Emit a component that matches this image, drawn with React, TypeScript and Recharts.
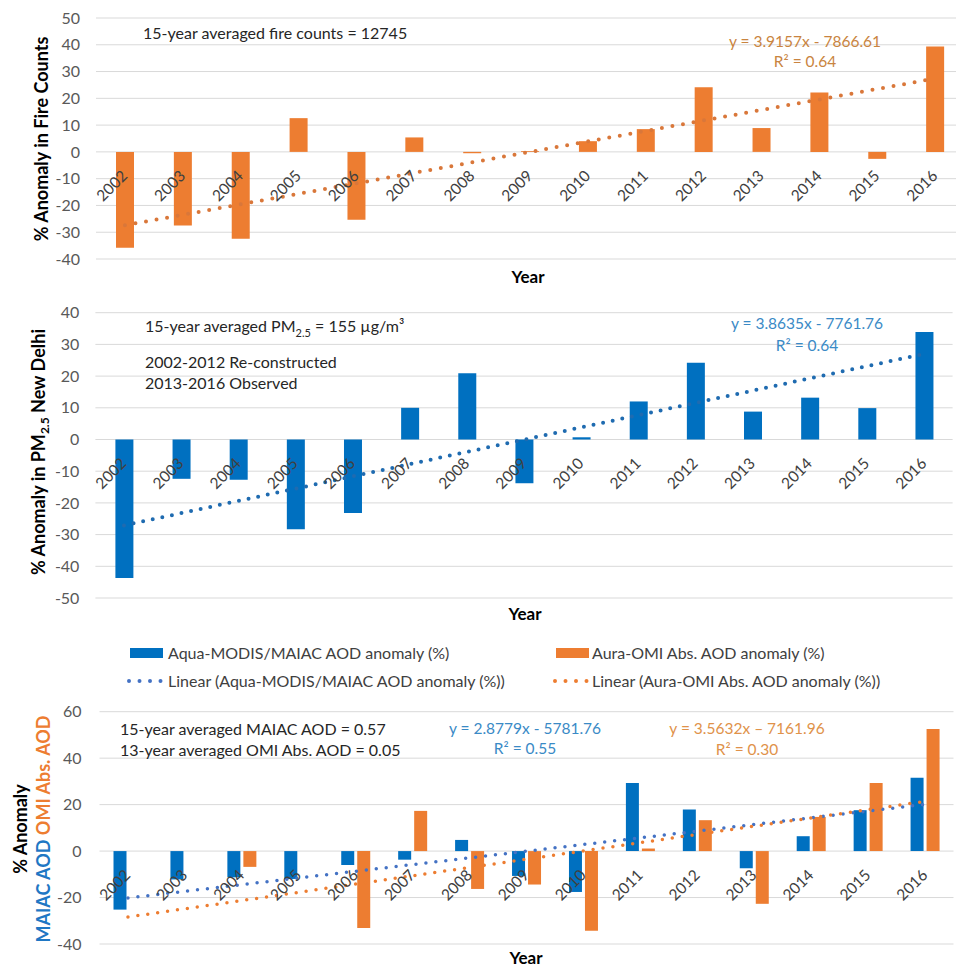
import { ComposedChart, Bar, Line, XAxis, YAxis, CartesianGrid, LabelList } from "recharts";

const FONT = "Lato, 'Open Sans', sans-serif";
const ORANGE = "#ED7D31";
const BLUE = "#0070C0";
const GRID = "#D9D9D9";
const TICK = "#595959";

const YEARS = ["2002", "2003", "2004", "2005", "2006", "2007", "2008", "2009", "2010", "2011", "2012", "2013", "2014", "2015", "2016"];

// panel 1: fire counts anomaly (%)
const FIRE_ANOMALY = [-35.8, -27.5, -32.4, 12.6, -25.3, 5.4, -0.5, 0.3, 4.0, 8.5, 24.1, 8.9, 22.2, -2.6, 39.4];
const FIRE_TREND_ENDS = [-27.4, 27.4];
const FIRE_TICKS = [-40, -30, -20, -10, 0, 10, 20, 30, 40, 50];

// panel 2: PM2.5 anomaly (%)
const PM25_ANOMALY = [-43.7, -12.4, -12.7, -28.3, -23.2, 10.0, 20.9, -13.8, 0.7, 12.0, 24.2, 8.8, 13.2, 9.9, 33.9];
const PM25_TREND_ENDS = [-27.1, 27.0];
const PM25_TICKS = [-50, -40, -30, -20, -10, 0, 10, 20, 30, 40];

// panel 3: AOD anomalies (%)
const MAIAC_ANOMALY = [-25.2, -12.2, -11.3, -12.0, -6.0, -3.7, 4.8, -10.7, -17.6, 29.3, 17.9, -7.4, 6.4, 17.6, 31.6];
const OMI_ANOMALY = [null, null, -6.8, null, -33.1, 17.3, -16.3, -14.4, -34.3, 1.1, 13.3, -22.7, 14.7, 29.3, 52.6];
const MAIAC_TREND_ENDS = [-20.2, 20.1];
const OMI_TREND_ENDS = [-28.4, 21.4];
const AOD_TICKS = [-40, -20, 0, 20, 40, 60];

const last = YEARS.length - 1;
const trendAt = (ends: number[], i: number) => (i === 0 ? ends[0] : i === last ? ends[1] : null);

const fireData = YEARS.map((year, i) => ({ year, value: FIRE_ANOMALY[i], trend: trendAt(FIRE_TREND_ENDS, i) }));
const pm25Data = YEARS.map((year, i) => ({ year, value: PM25_ANOMALY[i], trend: trendAt(PM25_TREND_ENDS, i) }));
const aodData = YEARS.map((year, i) => ({
  year,
  maiac: MAIAC_ANOMALY[i],
  omi: OMI_ANOMALY[i],
  maiacTrend: trendAt(MAIAC_TREND_ENDS, i),
  omiTrend: trendAt(OMI_TREND_ENDS, i),
}));

const YearLabel = (props: any) => {
  const { x, y, index } = props;
  const value = props.value ?? YEARS[index];
  const ax = x + 3.5;
  const ay = y + 25;
  return (
    <text x={ax} y={ay} transform={`rotate(-45, ${ax}, ${ay})`} textAnchor="end" fontSize={15.5} fill="#404040" fontFamily={FONT}>
      {value}
    </text>
  );
};

const yearLine = (
  <Line dataKey={() => 0} stroke="none" dot={false} activeDot={false} isAnimationActive={false} legendType="none">
    <LabelList dataKey="year" content={YearLabel} />
  </Line>
);

const tickStyle = { fill: TICK, fontSize: 16, fontFamily: FONT };

const Txt = ({ x, y, color = "#262626", size = 16, bold = false, center = false, children }: any) => (
  <div
    style={{
      position: "absolute",
      left: x,
      top: y,
      transform: center ? "translate(-50%, -50%)" : "translate(0, -50%)",
      color,
      fontSize: size,
      fontWeight: bold ? 700 : 400,
      whiteSpace: "nowrap",
      lineHeight: 1,
    }}
  >
    {children}
  </div>
);

const VTitle = ({ x, y, children, lineHeight = 1.2 }: any) => (
  <div
    style={{
      position: "absolute",
      left: x,
      top: y,
      transform: "translate(-50%, -50%) rotate(-90deg)",
      fontSize: 18,
      fontWeight: 700,
      color: "#000",
      whiteSpace: "nowrap",
      textAlign: "center",
      lineHeight,
    }}
  >
    {children}
  </div>
);

const LegendSwatch = ({ x, y, color, dotted }: any) =>
  dotted ? (
    <svg style={{ position: "absolute", left: x, top: y - 3 }} width={40} height={6}>
      <line x1={3} y1={3} x2={38} y2={3} stroke={color} strokeWidth={4} strokeDasharray="0 10.5" strokeLinecap="round" />
    </svg>
  ) : (
    <div style={{ position: "absolute", left: x, top: y - 5, width: 33, height: 10, background: color }} />
  );

export default function App() {
  return (
    <div
      style={{
        position: "absolute",
        left: 0,
        top: 0,
        width: 956,
        height: 967,
        overflow: "hidden",
        background: "#fff",
        fontFamily: FONT,
      }}
    >
      {/* panel 1: fire counts */}
      <div style={{ position: "absolute", left: 0, top: 0 }}>
        <ComposedChart width={970} height={275} data={fireData} margin={{ top: 18, right: 6, bottom: 16, left: 0 }}>
          <CartesianGrid vertical={false} stroke={GRID} />
          <XAxis dataKey="year" hide />
          <YAxis width={96} domain={[-40, 50]} ticks={FIRE_TICKS} interval={0} axisLine={false} tickLine={false} tickSize={0} tickMargin={16} tick={tickStyle} />
          <Bar dataKey="value" fill={ORANGE} barSize={18} isAnimationActive={false} />
          <Line dataKey="trend" connectNulls stroke="#D9773A" strokeWidth={4} strokeDasharray="0 10.7" strokeLinecap="round" dot={false} activeDot={false} isAnimationActive={false} />
          {yearLine}
        </ComposedChart>
      </div>
      <VTitle x={42} y={139}>% Anomaly in Fire Counts</VTitle>
      <Txt x={143} y={33}>15-year averaged fire counts = 12745</Txt>
      <Txt x={805} y={42} center size={15.5} color="#C98440">y = 3.9157x - 7866.61</Txt>
      <Txt x={805} y={62} center size={15.5} color="#C98440">R² = 0.64</Txt>
      <Txt x={528} y={276} center bold size={17} color="#000">Year</Txt>

      {/* panel 2: PM2.5 */}
      <div style={{ position: "absolute", left: 0, top: 290 }}>
        <ComposedChart width={956} height={324} data={pm25Data} margin={{ top: 22.7, right: 3.4, bottom: 16, left: 0 }}>
          <CartesianGrid vertical={false} stroke={GRID} />
          <XAxis dataKey="year" hide />
          <YAxis width={95.4} domain={[-50, 40]} ticks={PM25_TICKS} interval={0} axisLine={false} tickLine={false} tickSize={0} tickMargin={16} tick={tickStyle} />
          <Bar dataKey="value" fill={BLUE} barSize={18} isAnimationActive={false} />
          <Line dataKey="trend" connectNulls stroke="#1F6BB0" strokeWidth={4} strokeDasharray="0 9.8" strokeLinecap="round" dot={false} activeDot={false} isAnimationActive={false} />
          {yearLine}
        </ComposedChart>
      </div>
      <VTitle x={40} y={452}>
        % Anomaly in PM<sub style={{ fontSize: 12 }}>2.5</sub> New Delhi
      </VTitle>
      <Txt x={145} y={328}>
        15-year averaged PM<sub style={{ fontSize: 11 }}>2.5</sub> = 155 µg/m³
      </Txt>
      <Txt x={145} y={362}>2002-2012 Re-constructed</Txt>
      <Txt x={145} y={383}>2013-2016 Observed</Txt>
      <Txt x={807} y={324} center size={15.5} color="#3A8AC6">y = 3.8635x - 7761.76</Txt>
      <Txt x={807} y={346} center size={15.5} color="#3A8AC6">R² = 0.64</Txt>
      <Txt x={525} y={613} center bold size={17} color="#000">Year</Txt>

      {/* panel 3 legend */}
      <LegendSwatch x={130} y={653} color={BLUE} />
      <Txt x={168} y={653} color="#404040">Aqua-MODIS/MAIAC AOD anomaly (%)</Txt>
      <LegendSwatch x={556} y={653} color={ORANGE} />
      <Txt x={592} y={653} color="#404040">Aura-OMI Abs. AOD anomaly (%)</Txt>
      <LegendSwatch x={126} y={681} color="#4472C4" dotted />
      <Txt x={168} y={681} color="#404040">Linear (Aqua-MODIS/MAIAC AOD anomaly (%))</Txt>
      <LegendSwatch x={552} y={681} color={ORANGE} dotted />
      <Txt x={592} y={681} color="#404040">Linear (Aura-OMI Abs. AOD anomaly (%))</Txt>

      {/* panel 3: AOD */}
      <div style={{ position: "absolute", left: 0, top: 690 }}>
        <ComposedChart width={956} height={270} data={aodData} margin={{ top: 21.7, right: 2.5, bottom: 16, left: 0 }} barGap={3}>
          <CartesianGrid vertical={false} stroke={GRID} />
          <XAxis dataKey="year" hide />
          <YAxis width={99.5} domain={[-40, 60]} ticks={AOD_TICKS} interval={0} axisLine={false} tickLine={false} tickSize={0} tickMargin={18} tick={tickStyle} />
          <Bar dataKey="maiac" fill={BLUE} barSize={13} isAnimationActive={false} />
          <Bar dataKey="omi" fill={ORANGE} barSize={13} isAnimationActive={false} />
          <Line dataKey="maiacTrend" connectNulls stroke="#4472C4" strokeWidth={3.5} strokeDasharray="0 10" strokeLinecap="round" dot={false} activeDot={false} isAnimationActive={false} />
          <Line dataKey="omiTrend" connectNulls stroke={ORANGE} strokeWidth={3.5} strokeDasharray="0 10" strokeLinecap="round" dot={false} activeDot={false} isAnimationActive={false} />
          {yearLine}
        </ComposedChart>
      </div>
      <VTitle x={32} y={829} lineHeight={1.3}>
        <div>% Anomaly</div>
        <div>
          <span style={{ color: "#1F77C4" }}>MAIAC AOD </span>
          <span style={{ color: ORANGE }}>OMI Abs. AOD</span>
        </div>
      </VTitle>
      <Txt x={120} y={729}>15-year averaged MAIAC AOD = 0.57</Txt>
      <Txt x={120} y={750}>13-year averaged OMI Abs. AOD = 0.05</Txt>
      <Txt x={525} y={729} center size={15.5} color="#3A8AC6">y = 2.8779x - 5781.76</Txt>
      <Txt x={525} y={749} center size={15.5} color="#3A8AC6">R² = 0.55</Txt>
      <Txt x={747} y={729} center size={15.5} color="#E0924A">y = 3.5632x – 7161.96</Txt>
      <Txt x={747} y={750} center size={15.5} color="#E0924A">R² = 0.30</Txt>
      <Txt x={526} y={957} center bold size={17} color="#000">Year</Txt>
    </div>
  );
}
